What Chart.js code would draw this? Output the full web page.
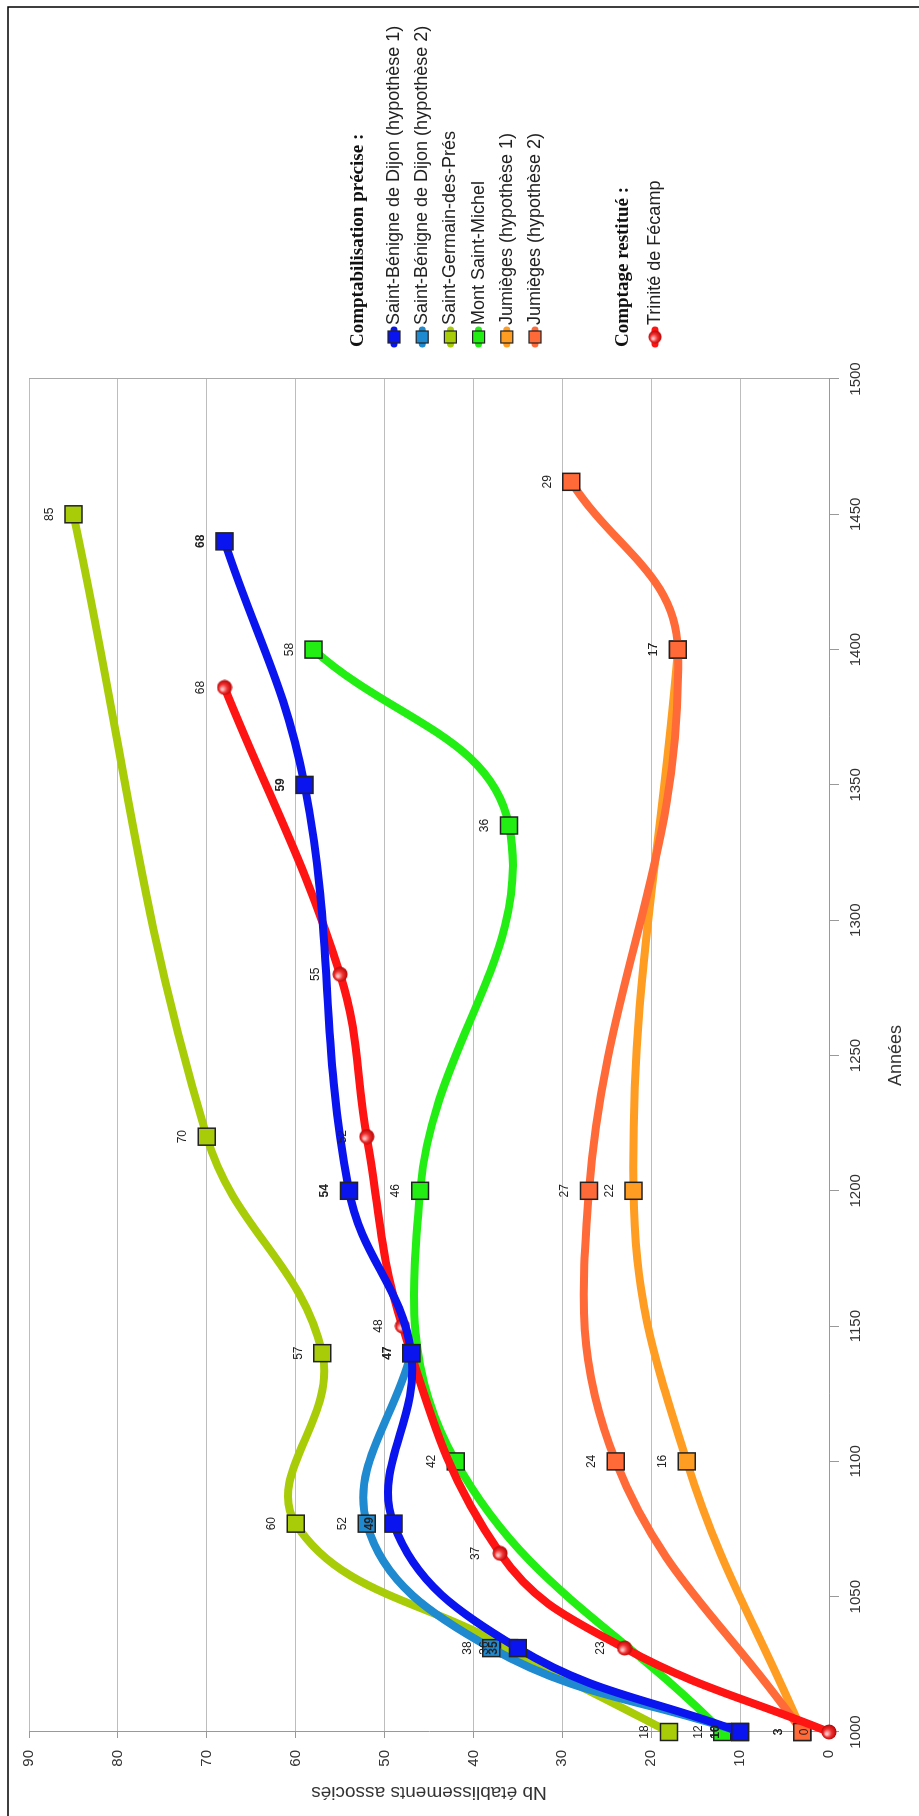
<!DOCTYPE html>
<html>
<head>
<meta charset="utf-8">
<script src="https://cdn.jsdelivr.net/npm/chart.js@4.4.1/dist/chart.umd.min.js"></script>
<style>
html, body { margin: 0; padding: 0; background: #fff; overflow: hidden; }
#wrap {
    position: absolute; left: 0; top: 0;
    width: 1816px; height: 919px;
    transform-origin: 0 0;
    transform: translateY(1816px) rotate(-90deg);
}
</style>
</head>
<body>
<div id="wrap"><canvas id="chart" width="1816" height="919"></canvas></div>
<script>
// years / values
const sbd1Years = [1000, 1031, 1077, 1140, 1200, 1350, 1440];
const sbd1Values = [10, 35, 49, 47, 54, 59, 68];
const sbd2Years = [1000, 1031, 1077, 1140];
const sbd2Values = [10, 38, 52, 47];
const sgpYears = [1000, 1031, 1077, 1140, 1220, 1450];
const sgpValues = [18, 36, 60, 57, 70, 85];
const msmYears = [1000, 1100, 1200, 1335, 1400];
const msmValues = [12, 42, 46, 36, 58];
const jum1Years = [1000, 1100, 1200, 1400];
const jum1Values = [3, 16, 22, 17];
const jum2Years = [1000, 1100, 1200, 1400, 1462];
const jum2Values = [3, 24, 27, 17, 29];
const fecYears = [1000, 1031, 1066, 1150, 1220, 1280, 1386];
const fecValues = [0, 23, 37, 48, 52, 55, 68];

const yearTicks = [1000, 1050, 1100, 1150, 1200, 1250, 1300, 1350, 1400, 1450, 1500];
const valueTicks = [0, 10, 20, 30, 40, 50, 60, 70, 80, 90];

const legendGroup1 = 'Comptabilisation précise :';
const legendGroup2 = 'Comptage restitué :';

const SANS = '"Liberation Sans", Arial, sans-serif';
const SERIF = '"Liberation Serif", "Times New Roman", serif';

function pts(xs, ys) {
    return xs.map((x, i) => ({ x: x, y: ys[i] }));
}

// shaded red ball used for Trinité de Fécamp
function sphere(size) {
    const c = document.createElement('canvas');
    c.width = c.height = size;
    const g = c.getContext('2d');
    const r = size / 2;
    const grad = g.createRadialGradient(r * 0.75, r * 0.7, 1, r, r, r);
    grad.addColorStop(0, '#ffc0c0');
    grad.addColorStop(0.45, '#f03030');
    grad.addColorStop(1, '#b00000');
    g.fillStyle = grad;
    g.beginPath();
    g.arc(r, r, r - 0.5, 0, Math.PI * 2);
    g.fill();
    return c;
}
const ball = sphere(16);

function series(label, xs, ys, color, order, extra) {
    return Object.assign({
        label: label,
        data: pts(xs, ys),
        borderColor: color,
        backgroundColor: color,
        borderWidth: 8,
        borderCapStyle: 'round',
        tension: 0.4,
        clip: false,
        pointStyle: 'rect',
        pointRadius: 12,
        pointBorderColor: '#222',
        pointBorderWidth: 1.5,
        pointBackgroundColor: color,
        order: order,
        group: 1
    }, extra || {});
}

const datasets = [
    series('Saint-Bénigne de Dijon (hypothèse 1)', sbd1Years, sbd1Values, '#0a14ee', 0, { labelBold: true }),
    series('Saint-Bénigne de Dijon (hypothèse 2)', sbd2Years, sbd2Values, '#1f8ad0', 1),
    series('Saint-Germain-des-Prés', sgpYears, sgpValues, '#a8cc08', 4),
    series('Mont Saint-Michel', msmYears, msmValues, '#22ee14', 3),
    series('Jumièges (hypothèse 1)', jum1Years, jum1Values, '#ff9c22', 6),
    series('Jumièges (hypothèse 2)', jum2Years, jum2Values, '#ff6a38', 5),
    series('Trinité de Fécamp', fecYears, fecValues, '#ff1414', 2, {
        pointStyle: ball, pointRadius: 8, group: 2
    })
];

const frame = {
    id: 'frame',
    afterDraw(chart) {
        const ctx = chart.ctx;
        ctx.save();
        ctx.strokeStyle = '#000';
        ctx.lineWidth = 1.5;
        ctx.beginPath();
        ctx.moveTo(0, 8);
        ctx.lineTo(1809, 8);
        ctx.lineTo(1809, chart.height);
        ctx.stroke();
        ctx.restore();
    }
};

const pointLabels = {
    id: 'pointLabels',
    afterDatasetsDraw(chart) {
        const ctx = chart.ctx;
        ctx.save();
        ctx.textAlign = 'center';
        ctx.textBaseline = 'middle';
        ctx.fillStyle = '#222';
        chart.data.datasets.forEach((ds, i) => {
            const meta = chart.getDatasetMeta(i);
            ctx.font = (ds.labelBold ? 'bold ' : '') + '12px ' + SANS;
            meta.data.forEach((pt, j) => {
                ctx.fillText(String(ds.data[j].y), pt.x, pt.y - 24);
            });
        });
        ctx.restore();
    }
};

function legendMarker(ctx, ds, x, y) {
    ctx.strokeStyle = ds.borderColor;
    ctx.lineWidth = 7;
    ctx.lineCap = 'round';
    ctx.beginPath();
    ctx.moveTo(x - 7, y);
    ctx.lineTo(x + 7, y);
    ctx.stroke();
    if (ds.pointStyle === 'rect') {
        ctx.fillStyle = ds.borderColor;
        ctx.fillRect(x - 6, y - 6, 12, 12);
        ctx.strokeStyle = '#222';
        ctx.lineWidth = 1.2;
        ctx.strokeRect(x - 6, y - 6, 12, 12);
    } else {
        ctx.drawImage(ds.pointStyle, x - 7, y - 7, 14, 14);
    }
}

const sideLegend = {
    id: 'sideLegend',
    afterDraw(chart) {
        const ctx = chart.ctx;
        const left = chart.chartArea.right + 32;
        ctx.save();
        ctx.textBaseline = 'middle';
        ctx.textAlign = 'left';
        ctx.fillStyle = '#111';
        ctx.font = 'bold 19px ' + SERIF;
        ctx.fillText(legendGroup1, left, 358);
        let y = 394;
        chart.data.datasets.filter(d => d.group === 1).forEach(ds => {
            legendMarker(ctx, ds, left + 10, y);
            ctx.fillStyle = '#222';
            ctx.font = '18px ' + SANS;
            ctx.fillText(ds.label, left + 22, y);
            y += 28.2;
        });
        ctx.fillStyle = '#111';
        ctx.font = 'bold 19px ' + SERIF;
        ctx.fillText(legendGroup2, left, 623);
        chart.data.datasets.filter(d => d.group === 2).forEach(ds => {
            legendMarker(ctx, ds, left + 10, 655);
            ctx.fillStyle = '#222';
            ctx.font = '18px ' + SANS;
            ctx.fillText(ds.label, left + 22, 655);
        });
        ctx.restore();
    }
};

new Chart(document.getElementById('chart'), {
    type: 'line',
    data: { datasets: datasets },
    plugins: [frame, pointLabels, sideLegend],
    options: {
        responsive: false,
        animation: false,
        events: [],
        layout: { padding: { left: 0, right: 379, top: 29, bottom: 0 } },
        plugins: { legend: { display: false }, tooltip: { enabled: false } },
        scales: {
            x: {
                type: 'linear',
                min: yearTicks[0],
                max: yearTicks[yearTicks.length - 1],
                afterBuildTicks: s => { s.ticks = yearTicks.map(v => ({ value: v })); },
                afterFit: s => { s.height = 90; },
                ticks: {
                    color: '#333', font: { family: SANS, size: 15 }, padding: 8, maxRotation: 0,
                    callback: v => String(v)
                },
                grid: {
                    color: c => (c.tick && c.tick.value === 1500 ? '#aaa' : 'rgba(0,0,0,0)'),
                    tickColor: '#999',
                    tickLength: 10
                },
                border: { color: '#999' },
                title: {
                    display: true, text: 'Années', color: '#333',
                    font: { family: SANS, size: 18 }, padding: { top: 0, bottom: 12 }
                }
            },
            y: {
                min: valueTicks[0],
                max: valueTicks[valueTicks.length - 1],
                afterBuildTicks: s => { s.ticks = valueTicks.map(v => ({ value: v })); },
                afterFit: s => { s.width = 84; },
                ticks: { color: '#333', font: { family: SANS, size: 15 }, padding: 12, callback: v => String(v) },
                grid: { color: '#bdbdbd', tickColor: '#999', tickLength: 6 },
                border: { color: '#999' },
                title: {
                    display: true, text: 'Nb établissements associés', color: '#333',
                    font: { family: SANS, size: 19 }, padding: { top: 12, bottom: 0 }
                }
            }
        }
    }
});
</script>
</body>
</html>
